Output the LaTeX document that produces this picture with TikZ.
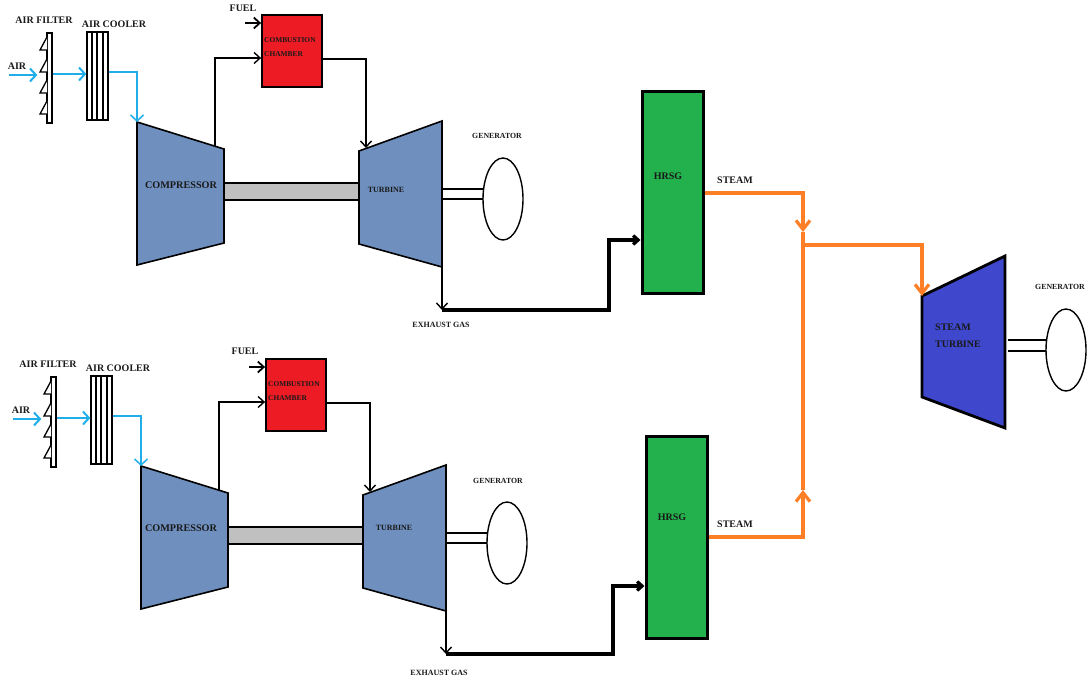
\documentclass[tikz,border=0pt]{standalone}
\usepackage{xcolor}
\usepackage{fontspec}
\setmainfont{Liberation Serif}
\usetikzlibrary{arrows.meta, positioning, shapes.geometric}

\definecolor{turbineblue}{HTML}{6F90BF}
\definecolor{steamblue}{HTML}{3F48CC}
\definecolor{chamberred}{HTML}{ED1C24}
\definecolor{hrsggreen}{HTML}{22B14C}
\definecolor{steamorange}{HTML}{FF7F27}
\definecolor{airblue}{HTML}{1FAEEA}
\definecolor{shaftgrey}{HTML}{C0C0C0}

\tikzset{
  lbl/.style={font=\bfseries\fontsize{#1}{#1}\selectfont, text=black!90, inner sep=0pt},
  lbl/.default=9,
  casing/.style={draw=black, line width=1.6pt, line join=miter},
  hrsgbox/.style={draw=black, line width=3pt, fill=hrsggreen, minimum width=61pt, minimum height=202pt, inner sep=0pt},
  chamberbox/.style={draw=black, line width=1.8pt, fill=chamberred, minimum width=60pt, minimum height=72pt, inner sep=0pt},
  genset/.style={draw=black, line width=1.4pt, fill=white, ellipse, minimum width=40pt, minimum height=82pt, inner sep=0pt},
  shaftline/.style={draw=black, line width=2pt},
  air/.style={draw=airblue, line width=2pt, -{Straight Barb[length=6pt,width=13pt]}},
  gas/.style={draw=black, line width=1.4pt, -{Straight Barb[length=6pt,width=11pt]}},
  exhaust/.style={draw=black, line width=3.2pt, -{Straight Barb[length=5pt,width=9pt]}},
  steam/.style={draw=steamorange, line width=3.2pt},
  steamarrow/.style={steam, -{Straight Barb[length=9pt,width=14pt]}},
}

\begin{document}
\begin{tikzpicture}[x=1pt, y=-1pt]
    \useasboundingbox (0,0) rectangle (1091,685);

    % the two gas turbine trains
    \foreach \u/\dx/\dy in {a/0/0, b/4/344}{
    \begin{scope}[shift={(\dx,\dy)}, name prefix=\u]
        % air filter
        \node[draw, line width=1.3pt, minimum width=5pt, minimum height=90pt, inner sep=0pt] (filter) at (49.5,78) {};
        \foreach \t in {50,72,93,114}
            \draw[line width=1.3pt, fill=white] (47,\t-13) -- (40,\t) -- (47,\t);
        % air cooler
        \node[draw, line width=1.3pt, minimum width=21pt, minimum height=88pt, inner sep=0pt] (cooler) at (97.5,76) {};
        \foreach \t in {92,97,103}
            \draw[line width=1.1pt] (\t,32) -- (\t,120);
        % compressor, shaft, turbine
        \fill[shaftgrey] (225,183) rectangle (359,200);
        \draw[shaftline] (225,183) -- (359,183) (225,200) -- (359,200);
        \draw[casing, fill=turbineblue] (137,122) coordinate (compin) -- (224,149) -- (224,243) -- (137,265) -- cycle;
        \draw[casing, fill=turbineblue] (359,151) -- (442,121) -- (442,267) coordinate (turbout) -- (359,244) -- cycle;
        \coordinate (compout) at (215,146);
        \coordinate (turbin) at (366,148);
        \draw[shaftline] (443,189) -- (483,189) (443,199) -- (483,199);
        \node[genset] (gen) at (503,199) {};
        % combustion chamber
        \node[chamberbox] (chamber) at (292,51) {};
        \node[lbl=7.4, align=left, anchor=north west] (chamberlbl) at (264,37.5) {COMBUSTION\\[6.5pt]CHAMBER};
        % flows
        \coordinate (airin) at (9,75);
        \coordinate (fuelin) at (245,23);
        \draw[air] (airin) -- ([xshift=-9pt]filter.west |- airin);
        \draw[air] (filter.east |- 0,74) -- (cooler.west |- 0,74);
        \draw[air, line width=1.5pt] (cooler.east |- 0,72) -| (compin);
        \draw[gas, line width=1.8pt] (fuelin) -- (chamber.west |- fuelin);
        \draw[gas] (compout) |- (chamber.west |- 0,58);
        \draw[gas] (chamber.east |- 0,59) -| (turbin);
        \coordinate (exhaustend) at (442,310);
        \draw[gas] (turbout) -- (exhaustend);
        % labels repeated with the train
        \node[lbl=10] (filterlbl) at (44,20) {AIR FILTER};
        \node[lbl=10] (coolerlbl) at (114,24) {AIR COOLER};
        \node[lbl=10] (airlbl) at (17,66) {AIR};
    \end{scope}
    }

    % fuel, compressor and the other labels do not line up between the trains
    \node[lbl=10] (fuela) at (243,8) {FUEL};
    \node[lbl=10] (fuelb) at (245,351) {FUEL};
    \node[lbl=10.2] (compa) at (181,185) {COMPRESSOR};
    \node[lbl=10.2] (compb) at (181,528) {COMPRESSOR};
    \node[lbl=8] (turba) at (386,190) {TURBINE};
    \node[lbl=8] (turbb) at (394,528) {TURBINE};
    \node[lbl=7.8] (gena) at (497,136) {GENERATOR};
    \node[lbl=7.8] (genb) at (498,481) {GENERATOR};
    \node[lbl=8] (exha) at (441,325) {EXHAUST GAS};
    \node[lbl=8] (exhb) at (439,673) {EXHAUST GAS};

    % heat recovery
    \node[hrsgbox] (hrsga) at (672.5,192) {};
    \node[hrsgbox] (hrsgb) at (676.5,537) {};
    \node[lbl=10] (hrsglbla) at (668,176) {HRSG};
    \node[lbl=10] (hrsglblb) at (672,517) {HRSG};
    \node[lbl=10] (steama) at (735,180) {STEAM};
    \node[lbl=10] (steamb) at (735,524) {STEAM};
    \draw[exhaust] (aexhaustend) -| (609,240) -- (hrsga.west |- 0,240);
    \draw[exhaust] (bexhaustend) -| (613,586) -- (hrsgb.west |- 0,586);

    % steam turbine
    \draw[casing, line width=2.8pt, fill=steamblue] (922,296) coordinate (stin) -- (1005,256) -- (1005,428) -- (922,397) -- cycle;
    \node[lbl=10, align=left, anchor=north west] (stlbl) at (935,324) {STEAM\\[7pt]TURBINE};
    \draw[shaftline] (1008,340) -- (1046,340) (1008,351) -- (1046,351);
    \node[genset] (genc) at (1066,350) {};
    \node[lbl=7.8] (genclbl) at (1060,287) {GENERATOR};

    % steam lines
    \coordinate (joint) at (803,240);
    \draw[steam] (joint |- 0,232) -- (joint |- 0,490);
    \draw[steamarrow] (hrsga.east |- 0,193) -| (joint |- 0,232);
    \draw[steamarrow] (hrsgb.east |- 0,537) -| (joint |- 0,490);
    \draw[steamarrow] (joint |- 0,245) -| (stin);
\end{tikzpicture}
\end{document}
